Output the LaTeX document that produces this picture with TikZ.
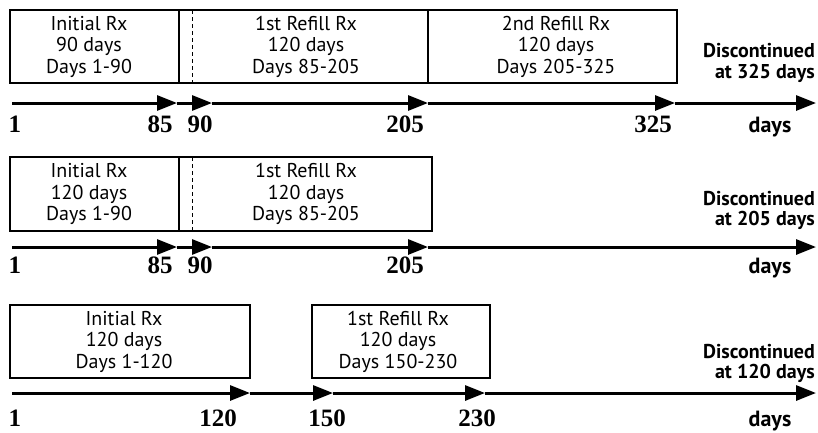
\documentclass[tikz,border=0pt]{standalone}
\usepackage{fontspec}
\setmainfont{PT Sans}
\newfontfamily\numfont{Liberation Serif}
\usetikzlibrary{arrows.meta}
\begin{document}
\begin{tikzpicture}[x=1pt,y=-1pt,
  box/.style={draw, line width=1.1pt, inner sep=0pt},
  txt/.style={align=center, font=\fontsize{20}{21.5}\selectfont, inner sep=0pt},
  num/.style={anchor=base, font=\numfont\bfseries\fontsize{25}{25}\selectfont, inner sep=0pt},
  unit/.style={anchor=base, font=\bfseries\fontsize{22}{22}\selectfont, inner sep=0pt},
  disc/.style={anchor=base east, font=\bfseries\fontsize{20}{20}\selectfont, inner sep=0pt},
  tl/.style={line width=3pt, -{Triangle[length=20pt,width=15pt]}},
  dsh/.style={line width=1pt, dash pattern=on 4pt off 3pt}]
\useasboundingbox (0,0) rectangle (818,432);
% ---------- row 1 ----------
\node[box, minimum width=169pt, minimum height=73pt] (r1b1) at (94.5,46.5) {};
\node[box, minimum width=249pt, minimum height=73pt] (r1b2) at (303.5,46.5) {};
\node[box, minimum width=249pt, minimum height=73pt] (r1b3) at (552.5,46.5) {};
\coordinate (r1d1) at (192,10); \coordinate (r1d2) at (192,83);
\draw[dsh] (r1d1) -- (r1d2);
\node[txt] (r1t1) at (89,46.5) {Initial Rx\\90 days\\Days 1-90};
\node[txt] (r1t2) at (306,46.5) {1st Refill Rx\\120 days\\Days 85-205};
\node[txt] (r1t3) at (556,46.5) {2nd Refill Rx\\120 days\\Days 205-325};
\node[disc] (r1x1) at (815,57) {Discontinued};
\node[disc] (r1x2) at (815,78) {at 325 days};
\coordinate (r1s) at (12,103);
\coordinate (r1a) at (177,103);
\coordinate (r1b) at (212,103);
\coordinate (r1c) at (428,103);
\coordinate (r1d) at (675,103);
\coordinate (r1e) at (816,103);
\draw[tl] (r1s) -- (r1a);
\draw[tl] (r1a) -- (r1b);
\draw[tl] (r1b) -- (r1c);
\draw[tl] (r1c) -- (r1d);
\draw[tl] (r1d) -- (r1e);
\node[num] (r1n1) at (15,132) {1};
\node[num] (r1n2) at (160,132) {85};
\node[num] (r1n3) at (200,132) {90};
\node[num] (r1n4) at (405,132) {205};
\node[num] (r1n5) at (653,132) {325};
\node[unit] (r1u) at (770,132) {days};
% ---------- row 2 ----------
\node[box, minimum width=169pt, minimum height=74pt] (r2b1) at (94.5,194) {};
\node[box, minimum width=253pt, minimum height=74pt] (r2b2) at (305.5,194) {};
\coordinate (r2d1) at (192,157); \coordinate (r2d2) at (192,231);
\draw[dsh] (r2d1) -- (r2d2);
\node[txt] (r2t1) at (89,194) {Initial Rx\\120 days\\Days 1-90};
\node[txt] (r2t2) at (306,194) {1st Refill Rx\\120 days\\Days 85-205};
\node[disc] (r2x1) at (815,205) {Discontinued};
\node[disc] (r2x2) at (815,225) {at 205 days};
\coordinate (r2s) at (12,247);
\coordinate (r2a) at (177,247);
\coordinate (r2b) at (212,247);
\coordinate (r2c) at (428,247);
\coordinate (r2e) at (816,247);
\draw[tl] (r2s) -- (r2a);
\draw[tl] (r2a) -- (r2b);
\draw[tl] (r2b) -- (r2c);
\draw[tl] (r2c) -- (r2e);
\node[num] (r2n1) at (15,273) {1};
\node[num] (r2n2) at (160,273) {85};
\node[num] (r2n3) at (200,273) {90};
\node[num] (r2n4) at (405,273) {205};
\node[unit] (r2u) at (770,273) {days};
% ---------- row 3 ----------
\node[box, minimum width=240pt, minimum height=73pt] (r3b1) at (130,341.5) {};
\node[box, minimum width=178pt, minimum height=73pt] (r3b2) at (401,341.5) {};
\node[txt] (r3t1) at (124,341.5) {Initial Rx\\120 days\\Days 1-120};
\node[txt] (r3t2) at (398,341.5) {1st Refill Rx\\120 days\\Days 150-230};
\node[disc] (r3x1) at (815,358) {Discontinued};
\node[disc] (r3x2) at (815,378) {at 120 days};
\coordinate (r3s) at (12,393);
\coordinate (r3a) at (250,393);
\coordinate (r3b) at (333,393);
\coordinate (r3c) at (485,393);
\coordinate (r3e) at (816,393);
\draw[tl] (r3s) -- (r3a);
\draw[tl] (r3a) -- (r3b);
\draw[tl] (r3b) -- (r3c);
\draw[tl] (r3c) -- (r3e);
\node[num] (r3n1) at (15,426) {1};
\node[num] (r3n2) at (218,426) {120};
\node[num] (r3n3) at (327,426) {150};
\node[num] (r3n4) at (477,426) {230};
\node[unit] (r3u) at (770,426) {days};
\end{tikzpicture}
\end{document}
